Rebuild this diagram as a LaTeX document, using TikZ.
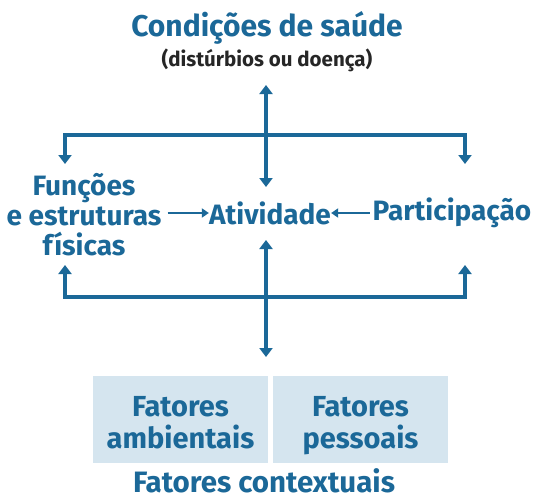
\documentclass[tikz,border=0pt]{standalone}
\usepackage{fontspec}
\setmainfont{Fira Sans}
\usetikzlibrary{arrows.meta}
\definecolor{cifblue}{HTML}{1B6898}
\definecolor{cifbox}{HTML}{D5E5EF}
\tikzset{
  arr/.style={cifblue, line width=3.6pt, -{Triangle[length=9pt,width=13pt]}},
  lbl/.style={cifblue, font=\bfseries\fontsize{28}{30}\selectfont, align=center, inner sep=0pt},
  boxlbl/.style={lbl, font=\bfseries\fontsize{29}{32}\selectfont, fill=cifbox, minimum width=175pt, minimum height=87pt}
}

\begin{document}
\begin{tikzpicture}[x=1pt,y=-1pt]
    \useasboundingbox (0,0) rectangle (533,501);
    % title
    \node[lbl, font=\bfseries\fontsize{30}{34}\selectfont] (cond) at (267,28) {Condições de saúde};
    \node[black!85, font=\bfseries\fontsize{20.5}{24}\selectfont, inner sep=0pt] (dist) at (267,60) {(distúrbios ou doença)};
    % middle row
    \node[lbl] (func) at (84,215) {Funções\\e estruturas\\físicas};
    \node[lbl] (ativ) at (270,213) {Atividade};
    \node[lbl] (part) at (452,213) {Participação};
    % bottom boxes
    \node[boxlbl] (amb) at (180.5,419.5) {\rule{0pt}{35pt}Fatores\\ambientais\strut};
    \node[boxlbl] (pes) at (360.5,419.5) {\rule{0pt}{35pt}Fatores\\pessoais\strut};
    \node[lbl, font=\bfseries\fontsize{29.5}{34}\selectfont] (ctx) at (264,481) {Fatores contextuais};
    % junctions
    \coordinate (top) at (266,135);
    \coordinate (topl) at (65,135);
    \coordinate (topr) at (465,135);
    \coordinate (botm) at (266,297);
    \coordinate (botl) at (65,297);
    \coordinate (botr) at (465,297);
    % upper arrows
    \draw[arr] (top) -- (266,85);
    \draw[arr] (top) -- (266,187);
    \draw[arr] (top) -- (topl) -- (65,164);
    \draw[arr] (top) -- (topr) -- (465,164);
    % lower arrows
    \draw[arr] (botm) -- (266,240);
    \draw[arr] (botm) -- (266,357);
    \draw[arr] (botm) -- (botl) -- (65,265);
    \draw[arr] (botm) -- (botr) -- (465,265);
    % side arrows
    \draw[arr, line width=2.4pt, -{Triangle[length=7pt,width=9pt]}] (func.east |- ativ) ++(6,0) -- (ativ.west);
    \draw[arr, line width=2.4pt, -{Triangle[length=7pt,width=9pt]}] (part.west) ++(-3,0) -- (ativ.east);
\end{tikzpicture}
\end{document}
